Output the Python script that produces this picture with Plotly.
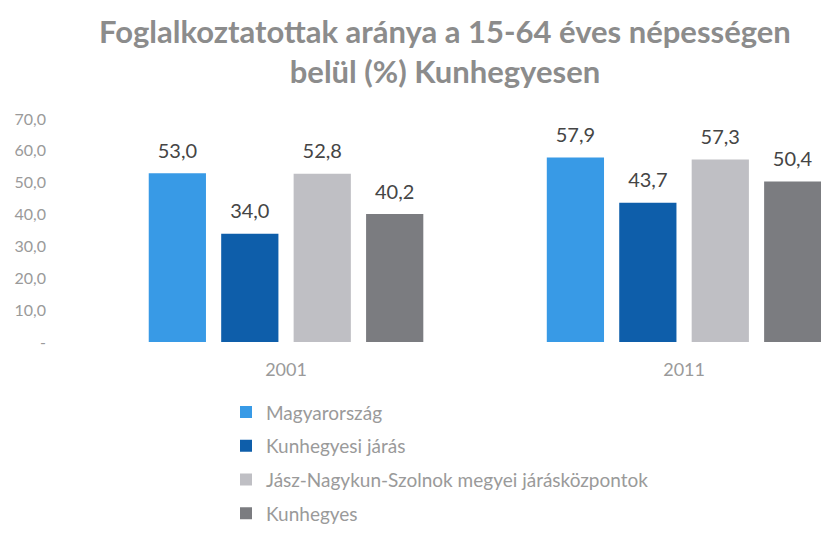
import plotly.graph_objects as go

categories = ["2001", "2011"]
series_names = ["Magyarország", "Kunhegyesi járás",
                "Jász-Nagykun-Szolnok megyei járásközpontok", "Kunhegyes"]
values = {
    "Magyarország": [53.0, 57.9],
    "Kunhegyesi járás": [34.0, 43.7],
    "Jász-Nagykun-Szolnok megyei járásközpontok": [52.8, 57.3],
    "Kunhegyes": [40.2, 50.4],
}
colors = ["#389ae6", "#0e5eaa", "#bfbfc4", "#7b7c80"]
tick_vals = [0, 10, 20, 30, 40, 50, 60, 70]
tick_text = ["-", "10,0", "20,0", "30,0", "40,0", "50,0", "60,0", "70,0"]

FONT = "Lato, 'Open Sans', sans-serif"

fig = go.Figure()
for i, name in enumerate(series_names):
    fig.add_trace(go.Bar(
        x=categories, y=values[name], name=name,
        marker=dict(color=colors[i], line=dict(width=0)),
        texttemplate="<span style='font-size:20px'>%{y:.1f}</span><br> ",
        textposition="outside", cliponaxis=False,
        textfont=dict(family=FONT, size=8, color="#454545"),
        legendgroup=name,
    ))

fig.update_layout(
    width=821, height=553,
    margin=dict(l=87, r=0, t=119, b=211),
    paper_bgcolor="white", plot_bgcolor="white",
    separators=", ",
    barmode="group", bargap=0.272, bargroupgap=0.21,
    title=dict(
        text="Foglalkoztatottak aránya a 15-64 éves népességen<br>belül (%) Kunhegyesen",
        x=0.542, xanchor="center", y=0.922, yanchor="middle",
        font=dict(family=FONT, size=31, color="#8c8c8c", weight="bold"),
    ),
    xaxis=dict(range=[-0.5, 1.344], showline=False, showgrid=False, ticks="",
               automargin=False, ticklabelstandoff=15,
               tickfont=dict(family=FONT, size=18, color="#9a9a9a")),
    yaxis=dict(range=[0, 70], tickvals=tick_vals, ticktext=tick_text,
               showgrid=False, zeroline=False, showline=False, ticks="",
               automargin=False, ticklabelstandoff=40,
               tickfont=dict(family=FONT, size=16, color="#9a9a9a")),
    showlegend=True,
    legend=dict(orientation="v", x=(226 - 87) / 734, xanchor="left",
                y=(342 - 393) / 222, yanchor="top",
                font=dict(family=FONT, size=19, color="#9a9a9a"),
                tracegroupgap=6, itemwidth=30, traceorder="grouped"),
)

fig.write_html("out.html", post_script="document.body.style.margin='0';",
               config={"displayModeBar": False})
